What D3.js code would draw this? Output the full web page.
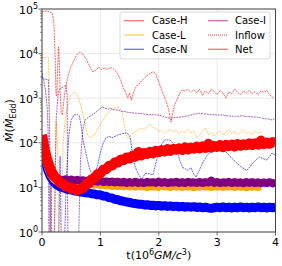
<!DOCTYPE html>
<html>
<head>
<meta charset="utf-8">
<script src="https://cdn.jsdelivr.net/npm/d3@7/dist/d3.min.js"></script>
<style>
  body { margin: 0; background: #fff; }
  text { font-family: 'DejaVu Sans', sans-serif; fill: #000; }
</style>
</head>
<body>
<div id="chart"></div>
<script>
// ---------------- data ----------------
var cases = ['Case-H', 'Case-L', 'Case-N', 'Case-I'];
var xTicks = [0, 1, 2, 3, 4];
var yTickExps = [0, 1, 2, 3, 4, 5];
var netStep = 0.05;   // net rates sampled every 0.05 (10^6 GM/c^3)

// inflow rates, [t, Mdot]
var inflowH = [[0,85000],[0.04,90000],[0.12,88000],[0.18,80000],[0.205,45000],[0.225,9000],[0.24,1200],[0.255,1100],[0.27,6000],[0.283,14000],[0.295,8000],[0.31,1500],[0.33,450],[0.35,420],[0.37,800],[0.40,1600],[0.45,3300],[0.50,5200],[0.55,7200],[0.60,9500],[0.65,11000],[0.68,10300],[0.72,9000],[0.77,7000],[0.82,5000],[0.87,3900],[0.92,4200],[0.97,5000],[1.02,4400],[1.07,4700],[1.12,4400],[1.17,4900],[1.22,4600],[1.27,4000],[1.31,3300],[1.35,2500],[1.39,1700],[1.42,1500],[1.47,1000],[1.50,1300],[1.53,900],[1.57,1400],[1.62,1900],[1.68,2200],[1.74,2700],[1.80,3200],[1.86,3700],[1.91,3900],[1.95,3500],[2.00,2300],[2.07,1300],[2.12,900],[2.16,630],[2.19,400],[2.21,290],[2.24,465],[2.27,700],[2.31,910],[2.36,1300],[2.40,1520],[2.45,1450],[2.50,1600],[2.55,1350],[2.60,1550],[2.65,1300],[2.70,1600],[2.75,1150],[2.80,1450],[2.85,1250],[2.90,1600],[2.95,1400],[3.00,1200],[3.05,1500],[3.10,1300],[3.15,1000],[3.20,1400],[3.25,1250],[3.30,1600],[3.35,1350],[3.40,1200],[3.45,1450],[3.50,1300],[3.55,1500],[3.60,1250],[3.65,1400],[3.70,1200],[3.75,1450],[3.80,1350],[3.85,1500],[3.90,1200],[3.97,1000]];
var inflowL = [[0,8300],[0.05,8200],[0.11,8000],[0.125,2000],[0.14,100],[0.155,0.3],[0.2,0.3],[0.235,60],[0.25,300],[0.27,80],[0.29,0.3],[0.33,0.3],[0.36,100],[0.40,350],[0.45,800],[0.50,1200],[0.55,1400],[0.60,1200],[0.65,800],[0.70,450],[0.74,250],[0.78,150],[0.82,130],[0.86,140],[0.90,150],[0.95,200],[1.00,260],[1.05,330],[1.10,420],[1.15,500],[1.20,560],[1.25,600],[1.30,620],[1.34,600],[1.38,430],[1.42,220],[1.45,140],[1.48,120],[1.52,150],[1.58,170],[1.64,190],[1.70,210],[1.75,200],[1.80,230],[1.85,260],[1.90,220],[1.95,210],[2.00,180],[2.05,190],[2.10,165],[2.15,185],[2.20,200],[2.25,175],[2.30,195],[2.35,160],[2.40,180],[2.45,170],[2.50,200],[2.55,165],[2.60,185],[2.65,130],[2.70,150],[2.75,180],[2.80,215],[2.85,150],[2.90,175],[2.95,140],[3.00,165],[3.05,185],[3.10,150],[3.15,170],[3.20,205],[3.25,160],[3.30,180],[3.35,150],[3.40,170],[3.45,195],[3.50,160],[3.55,175],[3.60,150],[3.65,185],[3.70,165],[3.77,175]];
var inflowN = [[0,3700],[0.02,2700],[0.11,2600],[0.125,400],[0.14,0.3],[0.28,0.3],[0.31,50],[0.33,0.3],[0.38,0.3],[0.42,20],[0.46,150],[0.50,330],[0.55,420],[0.60,430],[0.64,400],[0.67,250],[0.70,120],[0.74,70],[0.78,40],[0.82,25],[0.87,18],[0.92,22],[0.96,35],[1.0,60],[1.05,100],[1.1,130],[1.15,140],[1.2,130],[1.25,140],[1.3,150],[1.38,160],[1.46,166],[1.51,135],[1.56,48],[1.6,28],[1.64,21],[1.71,15],[1.76,20],[1.8,21],[1.85,20],[1.9,19],[1.95,35],[2.02,81],[2.1,116],[2.19,116],[2.25,95],[2.31,69],[2.36,40],[2.41,28],[2.5,24],[2.55,28],[2.6,20],[2.64,17],[2.7,25],[2.76,37],[2.84,55],[2.93,69],[3.0,78],[3.05,81],[3.11,70],[3.17,59],[3.25,45],[3.34,35],[3.42,28],[3.51,24],[3.56,29],[3.61,35],[3.67,42],[3.73,48],[3.79,44],[3.85,41],[3.9,50],[3.94,59],[4.0,53]];
var inflowI = [[0,3000],[0.03,2500],[0.06,1500],[0.09,600],[0.11,100],[0.12,0.3],[0.14,0.3],[0.155,40],[0.17,0.3],[0.21,0.3],[0.24,300],[0.27,1000],[0.29,1500],[0.33,1700],[0.37,1800],[0.41,2000],[0.43,1200],[0.445,0.3],[0.62,0.3],[0.66,40],[0.70,200],[0.74,330],[0.80,380],[0.86,420],[0.92,480],[0.98,560],[1.03,640],[1.08,600],[1.13,570],[1.18,590],[1.23,550],[1.3,540],[1.36,510],[1.42,500],[1.48,480],[1.55,470],[1.62,460],[1.7,455],[1.76,440],[1.82,430],[1.9,425],[2.0,420],[2.1,380],[2.19,355],[2.3,370],[2.4,380],[2.5,400],[2.6,440],[2.7,460],[2.8,440],[2.9,430],[3.0,420],[3.1,420],[3.2,400],[3.3,390],[3.38,395],[3.44,405],[3.5,385],[3.56,390],[3.62,375],[3.68,380],[3.74,365],[3.8,350],[3.86,345],[3.92,330],[3.96,325],[4.0,370]];

// net rates, one value per netStep
var netH = [150,66,38,25,18.5,15.8,13,12.2,10.6,10.4,
            9.3,9.4,8.5,9.2,9.6,11.5,12.2,15.2,16,19.8,
            20.5,25,25.8,30.5,31,36.5,36,42,41,47,
            44.5,51,49,62,52,59,56,63,58,66,
            62,69,64,72,66,73,70,75,69,79,
            71,78,74,82,75,83,77,95,78,85,
            81,89,80,90,84,91,83,94,86,93,
            88,97,89,98,91,112,93,101,95,104,
            97];
var netL = [110,44,26,18.5,15,13.5,12.8,12.3,12.6,12,
            12.4,11.8,12.2,12.5,11.7,12.1,11.5,11.9,11.2,11.6,
            11,11.3,10.8,11.1,10.5,10.9,10.4,10.7,10.3,10.8,
            10.2,10.6,10.1,10.7,10.3,10.5,9.9,10.6,10.2,10.5,
            10,10.8,10.3,10.4,9.9,10.9,10.1,10.5,10,10.6,
            10.2,10.4,9.8,10.6,10.1,10.9,10.2,10.4,9.9,10.5,
            10.1,10.6,10,10.4,10.2,10.7,9.9,10.5,10.1,10.3,
            9.8,10.6,10.1,10.4,10,10.3];
var netN = [95,40,24,17,13.5,11.5,10.5,9.9,9.4,9.0,
            8.8,8.4,8.2,7.9,7.8,7.6,7.5,7.2,7.1,6.8,
            6.8,6.4,6.3,5.9,5.8,5.4,5.3,5.0,4.9,4.7,
            4.6,4.4,4.35,4.2,4.2,4.05,4.1,3.95,4.0,3.85,
            3.95,3.8,3.9,3.75,3.85,3.7,3.8,3.65,3.75,3.6,
            3.7,3.6,3.7,3.55,3.65,3.5,3.6,3.45,3.4,3.5,
            3.6,3.5,3.65,3.5,3.6,3.45,3.6,3.5,3.65,3.5,
            3.6,3.45,3.6,3.5,3.65,3.5,3.6,3.45,3.6,3.5,
            3.6];
var netI = [120,48,30,20,17,15.5,15,14.6,15.2,14.3,
            15,14.1,14.8,14.2,14.5,13.8,14.3,13.6,14.1,13.4,
            13.9,13.2,13.6,13.1,13.5,12.9,13.4,12.8,13.3,12.6,
            13.2,12.7,13.4,12.6,13,12.5,13.3,12.8,13.1,12.6,
            13.5,12.7,13.2,12.5,13,12.8,13.4,12.6,13.1,12.5,
            13.3,12.7,13,12.6,13.2,12.5,13.1,12.8,14.2,12.6,
            13.2,12.5,13,12.7,13.3,12.5,13.1,12.6,13,12.4,
            13.2,12.6,13.1,12.5,13,12.4,12.9,12.5,13.1,12.3,
            12.8];

function renderChart() {
  var attrs = {
    svgWidth: 282,
    svgHeight: 266,
    plotLeft: 42,
    plotRight: 275.5,
    plotTop: 9,
    plotBottom: 232,
    colors: { 'Case-H': 'red', 'Case-L': 'orange', 'Case-N': 'blue', 'Case-I': 'purple' },
    netWidth: { 'Case-H': 10, 'Case-L': 7, 'Case-N': 9, 'Case-I': 8 },
    gridColor: '#e4e4e4',
    spineColor: '#444',
    tickFont: 11,
    legendFont: 10
  };

  var svg = d3.select('#chart').append('svg')
    .attr('width', attrs.svgWidth)
    .attr('height', attrs.svgHeight);

  var x = d3.scaleLinear().domain([0, 4]).range([attrs.plotLeft, attrs.plotRight]);
  var y = d3.scaleLog().domain([1, 1e5]).range([attrs.plotBottom, attrs.plotTop]);

  svg.append('clipPath').attr('id', 'plotclip')
    .append('rect')
    .attr('x', attrs.plotLeft).attr('y', attrs.plotTop)
    .attr('width', attrs.plotRight - attrs.plotLeft)
    .attr('height', attrs.plotBottom - attrs.plotTop);

  // grid
  var grid = svg.append('g').attr('class', 'grid');
  grid.selectAll('.gx').data(xTicks).enter().append('line')
    .attr('x1', d => x(d)).attr('x2', d => x(d))
    .attr('y1', attrs.plotTop).attr('y2', attrs.plotBottom)
    .attr('stroke', attrs.gridColor).attr('stroke-width', 0.8);
  grid.selectAll('.gy').data(yTickExps).enter().append('line')
    .attr('y1', d => y(Math.pow(10, d))).attr('y2', d => y(Math.pow(10, d)))
    .attr('x1', attrs.plotLeft).attr('x2', attrs.plotRight)
    .attr('stroke', attrs.gridColor).attr('stroke-width', 0.8);

  // lines
  var lineInflow = d3.line().x(d => x(d[0])).y(d => y(d[1]));
  var lineNet = d3.line().x((d, i) => x(i * netStep)).y(d => y(d));

  var series = [
    { name: 'Case-N', inflow: inflowN, net: netN },
    { name: 'Case-L', inflow: inflowL, net: netL },
    { name: 'Case-I', inflow: inflowI, net: netI },
    { name: 'Case-H', inflow: inflowH, net: netH }
  ];

  var plot = svg.append('g').attr('clip-path', 'url(#plotclip)');

  series.forEach(function (s) {
    plot.append('path')
      .attr('d', lineInflow(s.inflow))
      .attr('fill', 'none')
      .attr('stroke', attrs.colors[s.name])
      .attr('stroke-opacity', 0.6)
      .attr('stroke-width', 1)
      .attr('stroke-dasharray', '2,0.8');
  });
  series.forEach(function (s) {
    plot.append('path')
      .attr('d', lineNet(s.net))
      .attr('fill', 'none')
      .attr('stroke', attrs.colors[s.name])
      .attr('stroke-width', attrs.netWidth[s.name])
      .attr('stroke-linejoin', 'round')
      .attr('stroke-linecap', 'butt');
  });

  // spines
  svg.append('rect')
    .attr('x', attrs.plotLeft).attr('y', attrs.plotTop)
    .attr('width', attrs.plotRight - attrs.plotLeft)
    .attr('height', attrs.plotBottom - attrs.plotTop)
    .attr('fill', 'none').attr('stroke', attrs.spineColor).attr('stroke-width', 1);

  // x ticks
  var xt = svg.append('g');
  xt.selectAll('line').data(xTicks).enter().append('line')
    .attr('x1', d => x(d)).attr('x2', d => x(d))
    .attr('y1', attrs.plotBottom).attr('y2', attrs.plotBottom + 3.5)
    .attr('stroke', attrs.spineColor).attr('stroke-width', 0.8);
  xt.selectAll('text').data(xTicks).enter().append('text')
    .attr('x', d => x(d)).attr('y', 246)
    .attr('text-anchor', 'middle')
    .attr('font-size', attrs.tickFont)
    .text(d => d);

  // y ticks (log, with minor ticks)
  var yt = svg.append('g');
  var minor = [];
  yTickExps.slice(0, -1).forEach(function (e) {
    for (var k = 2; k < 10; k++) minor.push(k * Math.pow(10, e));
  });
  yt.selectAll('.minor').data(minor).enter().append('line')
    .attr('x1', attrs.plotLeft - 2).attr('x2', attrs.plotLeft)
    .attr('y1', d => y(d)).attr('y2', d => y(d))
    .attr('stroke', attrs.spineColor).attr('stroke-width', 0.6);
  yt.selectAll('.major').data(yTickExps).enter().append('line')
    .attr('x1', attrs.plotLeft - 3.5).attr('x2', attrs.plotLeft)
    .attr('y1', d => y(Math.pow(10, d))).attr('y2', d => y(Math.pow(10, d)))
    .attr('stroke', attrs.spineColor).attr('stroke-width', 0.8);
  var ylab = yt.selectAll('text').data(yTickExps).enter().append('text')
    .attr('x', 38).attr('y', d => y(Math.pow(10, d)) + 4.5)
    .attr('text-anchor', 'end')
    .attr('font-size', attrs.tickFont);
  ylab.append('tspan').text('10');
  ylab.append('tspan').attr('dy', -4.5).attr('font-size', 8).text(d => d);

  // axis labels
  var xl = svg.append('text')
    .attr('x', (attrs.plotLeft + attrs.plotRight) / 2).attr('y', 259)
    .attr('text-anchor', 'middle').attr('font-size', 11);
  xl.append('tspan').text('t(10');
  xl.append('tspan').attr('dy', -4.5).attr('font-size', 8).text('6');
  xl.append('tspan').attr('dy', 4.5).attr('font-style', 'italic').text('GM/c');
  xl.append('tspan').attr('dy', -4.5).attr('font-size', 8).text('3');
  xl.append('tspan').attr('dy', 4.5).text(')');

  var yl = svg.append('text')
    .attr('transform', 'translate(13,' + ((attrs.plotTop + attrs.plotBottom) / 2) + ') rotate(-90)')
    .attr('text-anchor', 'middle').attr('font-size', 11);
  yl.append('tspan').attr('font-style', 'italic').text('Ṁ');
  yl.append('tspan').text('(');
  yl.append('tspan').attr('font-style', 'italic').text('Ṁ');
  yl.append('tspan').attr('dy', 2.5).attr('font-size', 8).text('Edd');
  yl.append('tspan').attr('dy', -2.5).text(')');

  // legend
  var legendItems = [
    { label: 'Case-H', color: attrs.colors['Case-H'], dash: null },
    { label: 'Case-L', color: attrs.colors['Case-L'], dash: null },
    { label: 'Case-N', color: attrs.colors['Case-N'], dash: null },
    { label: 'Case-I', color: attrs.colors['Case-I'], dash: null },
    { label: 'Inflow', color: 'red', dash: '1,1' },
    { label: 'Net', color: 'red', dash: null }
  ];
  var lg = svg.append('g');
  lg.append('rect')
    .attr('x', 120).attr('y', 12).attr('width', 150).attr('height', 47)
    .attr('rx', 2).attr('fill', '#fff').attr('fill-opacity', 0.85)
    .attr('stroke', '#d0d0d0').attr('stroke-width', 0.8);
  var item = lg.selectAll('.item').data(legendItems).enter().append('g')
    .attr('transform', (d, i) => 'translate(' + (i < 3 ? 124 : 208) + ',' + (20.7 + (i % 3) * 14.3) + ')');
  item.append('line')
    .attr('x1', 0).attr('x2', 20).attr('y1', 0).attr('y2', 0)
    .attr('stroke', d => d.color).attr('stroke-opacity', 0.55)
    .attr('stroke-width', 1.3)
    .attr('stroke-dasharray', d => d.dash);
  item.append('text')
    .attr('x', (d, i) => i < 3 ? 28 : 27).attr('y', 3.6)
    .attr('font-size', attrs.legendFont)
    .text(d => d.label);
}

renderChart();
</script>
</body>
</html>
